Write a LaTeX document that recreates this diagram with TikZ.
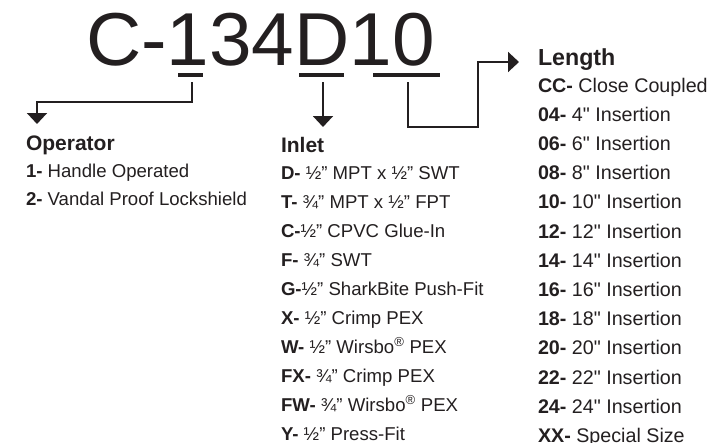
\documentclass[tikz,border=0pt]{standalone}
\usepackage{fontspec}
\setmainfont{Liberation Sans}[Ligatures=TeXOff]
\usetikzlibrary{arrows.meta}
\definecolor{ink}{RGB}{35,31,32}
\begin{document}
\begin{tikzpicture}[x=1pt,y=-1pt,
  every node/.style={inner sep=0pt,outer sep=0pt,anchor=base west,text=ink},
  titletext/.style={font=\fontsize{75}{75}\selectfont,xscale=1.02},
  headtext/.style={font=\fontsize{21}{24}\selectfont\bfseries},
  bighead/.style={font=\fontsize{23.2}{26}\selectfont\bfseries},
  itemtext/.style={font=\fontsize{18.6}{20}\selectfont},
  lenitem/.style={font=\fontsize{19.7}{22}\selectfont},
  uline/.style={draw=ink,line width=3.5pt},
  conn/.style={draw=ink,line width=2pt},
  arr/.style={conn,-{Triangle[width=20pt,length=11pt]}}]
\useasboundingbox (0,0) rectangle (712,442);
% title
\node[titletext] (title) at (86,65) {C-134D10};
\draw[uline] (178,75) -- (203,75);
\draw[uline] (299,75) -- (344,75);
\draw[uline] (373,75) -- (440,75);
\coordinate (opsrc) at (192,82);
\coordinate (insrc) at (323,82);
\coordinate (lensrc) at (408,82);
% headers
\node[headtext] (ophead) at (26,150) {Operator};
\node[headtext] (inhead) at (281,152) {Inlet};
\node[bighead] (lenhead) at (538,65) {Length};
\coordinate (optip) at (37,124);
\coordinate (intip) at (323,127);
\coordinate (lentip) at (519,62);
% connectors
\draw[arr] (opsrc) |- (37,102) -- (optip);
\draw[arr] (insrc) -- (intip);
\draw[arr] (lensrc) |- (478,127) |- (lentip);
% operator
\node[itemtext] (op1) at (26,177) {\textbf{1-} Handle Operated};
\node[itemtext] (op2) at (26,205) {\textbf{2-} Vandal Proof Lockshield};
% inlet
\node[itemtext] (in1) at (281,179) {\textbf{D-} ½” MPT x ½” SWT};
\node[itemtext] (in2) at (281,208) {\textbf{T-} ¾” MPT x ½” FPT};
\node[itemtext] (in3) at (281,237) {\textbf{C-}½” CPVC Glue-In};
\node[itemtext] (in4) at (281,266) {\textbf{F-} ¾” SWT};
\node[itemtext] (in5) at (281,295) {\textbf{G-}½” SharkBite Push-Fit};
\node[itemtext] (in6) at (281,324) {\textbf{X-} ½” Crimp PEX};
\node[itemtext] (in7) at (281,353) {\textbf{W-} ½” Wirsbo\textsuperscript{®} PEX};
\node[itemtext] (in8) at (281,382) {\textbf{FX-} ¾” Crimp PEX};
\node[itemtext] (in9) at (281,411) {\textbf{FW-} ¾” Wirsbo\textsuperscript{®} PEX};
\node[itemtext] (in10) at (281,440) {\textbf{Y-} ½” Press-Fit};
% length
\node[lenitem] (len1) at (538,92) {\textbf{CC-} Close Coupled};
\node[lenitem] (len2) at (538,121.2) {\textbf{04-} 4" Insertion};
\node[lenitem] (len3) at (538,150.4) {\textbf{06-} 6" Insertion};
\node[lenitem] (len4) at (538,179.6) {\textbf{08-} 8" Insertion};
\node[lenitem] (len5) at (538,208.8) {\textbf{10-} 10" Insertion};
\node[lenitem] (len6) at (538,238) {\textbf{12-} 12" Insertion};
\node[lenitem] (len7) at (538,267.2) {\textbf{14-} 14" Insertion};
\node[lenitem] (len8) at (538,296.4) {\textbf{16-} 16" Insertion};
\node[lenitem] (len9) at (538,325.6) {\textbf{18-} 18" Insertion};
\node[lenitem] (len10) at (538,354.8) {\textbf{20-} 20" Insertion};
\node[lenitem] (len11) at (538,384) {\textbf{22-} 22" Insertion};
\node[lenitem] (len12) at (538,413.2) {\textbf{24-} 24" Insertion};
\node[lenitem] (len13) at (538,442) {\textbf{XX-} Special Size};
\end{tikzpicture}
\end{document}
